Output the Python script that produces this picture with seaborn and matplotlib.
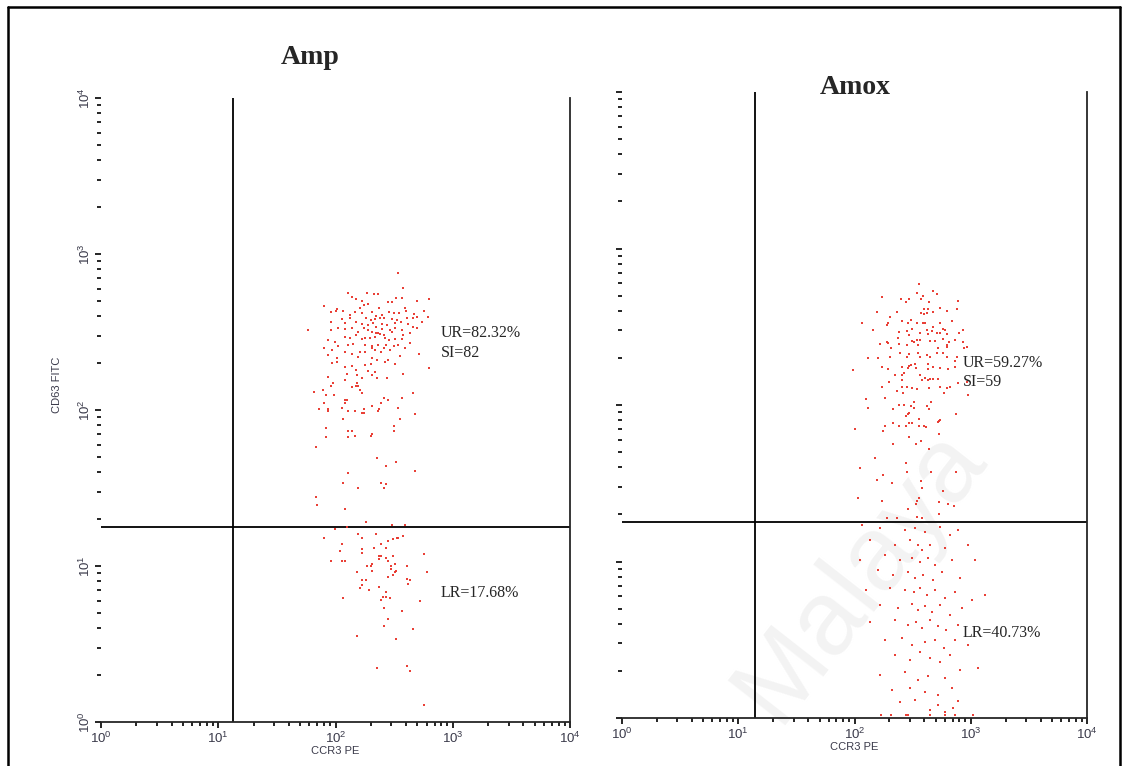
import numpy as np
import pandas as pd
import matplotlib
matplotlib.use("Agg")
import matplotlib.pyplot as plt
from matplotlib.ticker import LogLocator, LogFormatterMathtext, NullFormatter
from matplotlib.lines import Line2D
import seaborn as sns

# ---------------- data (log10 fluorescence intensity) ----------------
# Amp panel: upper gate (CD63 high)
amp_up_ccr3 = [2.535, 2.578, 2.109, 2.271, 2.328, 2.359, 2.138, 2.172, 2.518, 2.564, 2.797, 2.229, 2.697,
               1.905, 2.243, 2.280, 2.374, 2.444, 2.479, 2.592, 2.212, 1.962, 2.010, 2.067, 2.166, 2.223,
               2.314, 2.345, 2.399, 2.456, 2.498, 2.544, 2.598, 2.672, 2.757, 2.785, 2.002, 2.053, 2.124,
               2.124, 2.257, 2.303, 2.337, 2.379, 2.416, 2.479, 2.521, 2.612, 2.663, 2.697, 1.962, 2.081,
               2.175, 2.223, 2.280, 2.322, 2.393, 2.436, 2.507, 2.558, 2.621, 2.663, 2.734, 2.024, 2.081,
               2.138, 2.246, 2.274, 2.348, 2.393, 2.464, 2.507, 2.564, 2.695, 1.962, 1.769, 2.195, 2.308,
               2.345, 2.379, 2.416, 2.479, 2.578, 2.635, 2.172, 2.081, 2.124, 2.223, 2.251, 2.294, 2.337,
               2.365, 2.422, 2.456, 2.507, 2.564, 2.635, 1.996, 1.939, 2.024, 2.109, 2.152, 2.251, 2.308,
               2.365, 2.427, 2.496, 2.535, 1.905, 1.967, 2.081, 2.138, 2.209, 2.251, 2.308, 2.337, 2.388,
               2.416, 2.464, 2.592, 2.712, 1.939, 2.010, 2.195, 2.308, 2.351, 2.450, 2.422, 2.550, 1.973,
               2.010, 2.081, 2.138, 2.251, 2.303, 2.178, 2.280, 2.337, 2.314, 2.507, 2.797, 1.939, 1.982,
               2.095, 2.180, 2.223, 2.351, 2.436, 2.578, 2.081, 2.180,
               1.962, 2.138, 2.172, 2.195, 1.820, 1.891, 2.212, 1.919, 1.990, 2.229, 2.663, 2.081, 2.095,
               2.416, 2.444, 2.564, 1.905, 2.081, 2.388, 1.859, 1.933, 1.933, 2.053, 2.109, 2.166, 2.243,
               2.229, 2.246, 2.314, 2.371, 2.359, 2.535, 2.680, 2.067, 2.550, 1.919, 2.502, 2.109, 2.138,
               2.502, 1.919, 2.109, 2.166, 2.303, 2.314, 1.831, 2.357, 2.431, 2.518, 2.680, 2.109, 2.067,
               2.388, 2.431, 2.195, 2.416, 1.831, 1.845, 2.081, 2.257, 2.479, 2.592]
amp_up_cd63 = [2.876, 2.780, 2.750, 2.752, 2.741, 2.741, 2.722, 2.709, 2.720, 2.720, 2.709, 2.699, 2.699,
               2.669, 2.673, 2.677, 2.656, 2.694, 2.694, 2.656, 2.652, 2.626, 2.645, 2.637, 2.626, 2.620,
               2.630, 2.605, 2.609, 2.630, 2.620, 2.624, 2.635, 2.615, 2.637, 2.598, 2.635, 2.583, 2.609,
               2.588, 2.588, 2.577, 2.583, 2.588, 2.592, 2.583, 2.577, 2.588, 2.592, 2.598, 2.562, 2.556,
               2.566, 2.549, 2.545, 2.556, 2.549, 2.545, 2.556, 2.562, 2.549, 2.534, 2.562, 2.523, 2.517,
               2.528, 2.523, 2.513, 2.534, 2.517, 2.513, 2.523, 2.513, 2.528, 2.511, 2.511, 2.502, 2.502,
               2.491, 2.485, 2.481, 2.502, 2.481, 2.491, 2.481, 2.470, 2.459, 2.455, 2.464, 2.459, 2.470,
               2.491, 2.459, 2.449, 2.455, 2.455, 2.427, 2.438, 2.449, 2.412, 2.417, 2.421, 2.417, 2.408,
               2.417, 2.417, 2.412, 2.417, 2.395, 2.385, 2.370, 2.357, 2.374, 2.370, 2.395, 2.385, 2.370,
               2.400, 2.385, 2.395, 2.357, 2.353, 2.331, 2.342, 2.331, 2.320, 2.320, 2.310, 2.348, 2.299,
               2.305, 2.278, 2.284, 2.288, 2.293, 2.256, 2.250, 2.241, 2.224, 2.293, 2.271, 2.209, 2.171,
               2.229, 2.224, 2.203, 2.203, 2.207, 2.233, 2.192, 2.171,
               2.156, 2.150, 2.156, 2.156, 2.118, 2.128, 2.128, 2.096, 2.096, 2.107, 2.107, 2.064, 2.064,
               2.075, 2.064, 2.075, 2.043, 2.043, 2.043, 2.004, 2.004, 1.994, 2.011, 1.994, 1.994, 2.004,
               1.983, 1.983, 2.026, 2.004, 1.994, 2.011, 1.972, 1.940, 1.940, 1.887, 1.900, 1.868, 1.868,
               1.868, 1.825, 1.825, 1.835, 1.835, 1.846, 1.763, 1.690, 1.639, 1.669, 1.607, 1.596, 1.534,
               1.534, 1.523, 1.502, 1.502, 1.440, 1.389, 1.367, 1.284, 1.263, 1.263]
# Amp panel: lower gate (CD63 low)
amp_low_ccr3 = [2.095, 1.996, 1.905, 2.195, 2.229, 2.343, 2.490, 2.521, 2.535, 2.578, 2.444, 2.053, 2.039,
                2.223, 2.223, 2.331, 2.388, 2.431, 2.374, 2.388, 2.374, 2.431, 2.490, 2.444, 2.755, 1.962,
                2.053, 2.081, 2.271, 2.303, 2.314, 2.476, 2.505, 2.607, 2.184, 2.314, 2.476, 2.518, 2.505,
                2.490, 2.444, 2.783, 2.223, 2.257, 2.607, 2.635, 2.621, 2.223, 2.212, 2.286, 2.374, 2.431,
                2.402, 2.431, 2.462, 2.388, 2.067, 2.723, 2.416, 2.564, 2.444, 2.416, 2.663, 2.184, 2.518,
                2.357, 2.607, 2.635, 2.755]
amp_low_cd63 = [1.252, 1.235, 1.182, 1.203, 1.182, 1.203, 1.171, 1.182, 1.182, 1.192, 1.160, 1.139, 1.096,
                1.107, 1.086, 1.118, 1.139, 1.118, 1.064, 1.064, 1.043, 1.053, 1.064, 1.034, 1.075, 1.034,
                1.034, 1.034, 1.002, 1.002, 1.013, 1.002, 1.013, 1.002, 0.962, 0.970, 0.981, 0.970, 0.962,
                0.940, 0.929, 0.962, 0.908, 0.908, 0.919, 0.908, 0.887, 0.876, 0.857, 0.846, 0.868, 0.835,
                0.803, 0.803, 0.795, 0.782, 0.795, 0.774, 0.731, 0.714, 0.658, 0.615, 0.596, 0.553, 0.534,
                0.346, 0.357, 0.325, 0.107]

# Amox panel: upper gate
amox_up_ccr3 = [2.555, 2.540, 2.592, 2.672, 2.707, 2.234, 2.397, 2.469, 2.440, 2.572, 2.644, 2.893, 2.191,
                2.363, 2.601, 2.635, 2.678, 2.735, 2.793, 2.879, 2.569, 2.598, 2.621, 2.305, 2.406, 2.486,
                2.535, 2.586, 2.609, 2.735, 2.836, 2.062, 2.277, 2.291, 2.457, 2.678, 2.162, 2.386, 2.449,
                2.497, 2.563, 2.627, 2.664, 2.735, 2.764, 2.778, 2.930, 2.899, 2.377, 2.466, 2.635, 2.707,
                2.793, 2.535, 2.492, 2.515, 2.563, 2.649, 2.692, 2.764, 2.864, 2.936, 2.816, 2.277, 2.291,
                2.219, 2.386, 2.449, 2.543, 2.715, 2.793, 2.793, 2.965, 2.942, 2.311, 2.391, 2.472, 2.621,
                2.543, 2.707, 2.764, 2.119, 2.205, 2.305, 2.449, 2.563, 2.649, 2.793, 2.864, 2.879, 1.990,
                2.234, 2.291, 2.406, 2.469, 2.486, 2.520, 2.635, 2.678, 2.735, 2.801, 2.864, 2.635, 2.463,
                2.529, 2.348, 2.406, 2.426, 2.563, 2.606, 2.635, 2.581, 2.649, 2.721, 2.406, 2.300, 2.678,
                2.449, 2.411, 2.492, 2.540, 2.644, 2.735, 2.793, 2.234, 2.363, 2.414, 2.770, 2.099, 2.262,
                2.979, 2.893, 2.965, 2.821,
                2.512, 2.658, 2.119, 2.334, 2.380, 2.426, 2.483, 2.512, 2.627, 2.644, 2.472, 2.440, 2.457,
                2.555, 2.735, 2.727, 2.715, 2.873, 2.262, 2.334, 2.383, 2.440, 2.469, 2.497, 2.555, 2.598,
                2.615, 2.004, 2.248, 2.730, 2.469, 2.569, 2.334, 2.526, 2.644, 2.179, 2.440, 2.047, 2.454,
                2.658, 2.873, 2.248, 2.191, 2.323, 2.569, 2.583, 2.758, 2.033, 2.234, 2.555, 2.540, 2.730,
                2.801, 2.526, 2.859, 2.457, 2.730, 2.277, 2.368, 2.540, 2.583]
amox_up_cd63 = [2.771, 2.718, 2.699, 2.728, 2.709, 2.688, 2.677, 2.677, 2.656, 2.677, 2.656, 2.667, 2.596,
                2.596, 2.613, 2.611, 2.596, 2.618, 2.603, 2.613, 2.586, 2.579, 2.586, 2.564, 2.539, 2.543,
                2.526, 2.522, 2.522, 2.526, 2.539, 2.522, 2.511, 2.522, 2.522, 2.500, 2.479, 2.469, 2.475,
                2.486, 2.458, 2.479, 2.475, 2.462, 2.486, 2.479, 2.479, 2.458, 2.426, 2.447, 2.454, 2.458,
                2.451, 2.415, 2.407, 2.400, 2.415, 2.411, 2.411, 2.420, 2.415, 2.400, 2.400, 2.405, 2.394,
                2.390, 2.390, 2.383, 2.381, 2.362, 2.383, 2.373, 2.373, 2.362, 2.362, 2.334, 2.326, 2.319,
                2.334, 2.334, 2.334, 2.302, 2.302, 2.309, 2.309, 2.305, 2.309, 2.305, 2.283, 2.305, 2.224,
                2.241, 2.230, 2.241, 2.251, 2.256, 2.262, 2.228, 2.241, 2.239, 2.230, 2.241, 2.262, 2.234,
                2.234, 2.192, 2.192, 2.202, 2.192, 2.170, 2.160, 2.160, 2.166, 2.166, 2.160, 2.149, 2.164,
                2.117, 2.117, 2.106, 2.102, 2.106, 2.117, 2.106, 2.117, 2.089, 2.075, 2.075, 2.040, 2.047,
                2.064, 2.138, 2.149, 2.117,
                2.021, 2.021, 1.983, 1.972, 2.002, 2.002, 1.991, 1.983, 1.991, 1.972, 1.951, 1.930, 1.942,
                1.908, 1.904, 1.896, 1.889, 1.940, 1.866, 1.887, 1.866, 1.868, 1.887, 1.887, 1.868, 1.868,
                1.857, 1.847, 1.836, 1.815, 1.793, 1.772, 1.753, 1.753, 1.721, 1.659, 1.627, 1.595, 1.574,
                1.574, 1.574, 1.555, 1.523, 1.504, 1.512, 1.472, 1.450, 1.408, 1.389, 1.408, 1.389, 1.378,
                1.367, 1.367, 1.357, 1.335, 1.306, 1.276, 1.276, 1.284, 1.276]
# Amox panel: lower gate
amox_low_ccr3 = [2.065, 2.219, 2.434, 2.520, 2.606, 2.735, 2.821, 2.890, 2.133, 2.348, 2.477, 2.546, 2.581,
                 2.649, 2.778, 2.976, 2.047, 2.262, 2.391, 2.495, 2.563, 2.632, 2.692, 2.839, 3.037, 2.202,
                 2.331, 2.460, 2.520, 2.589, 2.675, 2.753, 2.908, 2.099, 2.305, 2.434, 2.512, 2.563, 2.624,
                 2.692, 2.778, 2.865, 3.011, 3.123, 2.219, 2.374, 2.495, 2.546, 2.606, 2.667, 2.735, 2.821,
                 2.925, 2.133, 2.348, 2.460, 2.529, 2.581, 2.649, 2.718, 2.787, 2.890, 2.262, 2.409, 2.495,
                 2.606, 2.692, 2.770, 2.865, 2.976, 2.348, 2.477, 2.563, 2.649, 2.735, 2.821, 3.062, 2.219,
                 2.434, 2.546, 2.632, 2.778, 2.908, 2.323, 2.477, 2.606, 2.718, 2.839, 2.391, 2.520, 2.718,
                 2.847, 2.890, 2.649, 2.778, 2.228, 2.314, 2.443, 2.460, 2.649, 2.778, 2.865, 3.019]
amox_low_cd63 = [1.233, 1.214, 1.201, 1.214, 1.189, 1.220, 1.169, 1.201, 1.137, 1.105, 1.137, 1.105, 1.074,
                 1.105, 1.086, 1.105, 1.010, 1.042, 1.010, 1.022, 0.997, 1.022, 0.978, 1.010, 1.010, 0.946,
                 0.914, 0.933, 0.895, 0.914, 0.882, 0.933, 0.895, 0.818, 0.831, 0.818, 0.805, 0.831, 0.786,
                 0.818, 0.767, 0.805, 0.754, 0.786, 0.722, 0.703, 0.728, 0.690, 0.716, 0.677, 0.722, 0.658,
                 0.703, 0.613, 0.626, 0.594, 0.613, 0.575, 0.626, 0.588, 0.562, 0.594, 0.498, 0.511, 0.466,
                 0.486, 0.498, 0.447, 0.498, 0.466, 0.403, 0.371, 0.422, 0.383, 0.358, 0.403, 0.320, 0.275,
                 0.294, 0.243, 0.268, 0.256, 0.307, 0.179, 0.192, 0.166, 0.147, 0.192, 0.102, 0.115, 0.083,
                 0.064, 0.109, 0.051, 0.038, 0.020, 0.020, 0.020, 0.020, 0.020, 0.020, 0.020, 0.020]

# quadrant gates (fluorescence units)
amp_gate_x, amp_gate_y = 13.4, 17.8
amox_gate_x, amox_gate_y = 13.9, 17.9

panel_titles = ["Amp", "Amox"]
amp_labels = ["UR=82.32%", "SI=82", "LR=17.68%"]
amox_labels = ["UR=59.27%", "SI=59", "LR=40.73%"]
x_label = "CCR3 PE"
y_label = "CD63 FITC"
watermark = "Malaya"

# ---------------- figure ----------------
sns.set_style("ticks")
plt.rcParams["font.family"] = ["Liberation Sans", "DejaVu Sans"]
plt.rcParams["mathtext.fontset"] = "custom"
plt.rcParams["mathtext.rm"] = "Liberation Sans"
plt.rcParams["mathtext.it"] = "Liberation Sans"

W, H = 1127, 766
fig = plt.figure(figsize=(W / 100, H / 100), dpi=100)
fig.patch.set_facecolor("white")


def fx(px):
    return px / W


def fy(py):
    return 1 - py / H


ax1 = fig.add_axes([fx(101), fy(722), (570 - 101) / W, (722 - 98) / H])
ax2 = fig.add_axes([fx(622), fy(718), (1087 - 622) / W, (718 - 92) / H])

point_color = "#e8362c"


def make_df(xs, ys):
    return pd.DataFrame({"CCR3": 10 ** np.array(xs), "CD63": 10 ** np.array(ys)})


amp_df = pd.concat([make_df(amp_up_ccr3, amp_up_cd63), make_df(amp_low_ccr3, amp_low_cd63)])
amox_df = pd.concat([make_df(amox_up_ccr3, amox_up_cd63), make_df(amox_low_ccr3, amox_low_cd63)])

label_color = "#3a3a4a"
for ax, df, gx, gy in [(ax1, amp_df, amp_gate_x, amp_gate_y), (ax2, amox_df, amox_gate_x, amox_gate_y)]:
    ax.set_facecolor("none")
    sns.scatterplot(data=df, x="CCR3", y="CD63", ax=ax, marker="s", s=3, color=point_color,
                    linewidth=0, alpha=0.95, clip_on=False, zorder=3)
    ax.set_xscale("log")
    ax.set_yscale("log")
    ax.set_xlim(1, 1e4)
    ax.set_ylim(1, 1e4)
    ax.axvline(gx, color="black", lw=1.3, zorder=2)
    ax.axhline(gy, color="black", lw=1.3, zorder=2)
    for a in (ax.xaxis, ax.yaxis):
        a.set_major_locator(LogLocator(base=10, numticks=10))
        a.set_minor_locator(LogLocator(base=10, subs=np.arange(2, 10), numticks=10))
        a.set_major_formatter(LogFormatterMathtext())
        a.set_minor_formatter(NullFormatter())
    ax.spines["top"].set_visible(False)
    ax.spines["left"].set_visible(False)
    ax.spines["right"].set_linewidth(1.3)
    ax.spines["bottom"].set_linewidth(1.3)
    ax.tick_params(axis="both", which="major", direction="out", length=4, width=1.2,
                   color="black", labelsize=9.5, labelcolor=label_color, pad=2)
    ax.tick_params(axis="both", which="minor", direction="out", length=3, width=1.2, color="black")
    ax.tick_params(axis="y", labelrotation=90)
    ax.set_xlabel(x_label, fontsize=8, color=label_color, labelpad=0)
    ax.set_ylabel("")

for lbl in ax1.get_yticklabels():
    lbl.set_va("center")
ax1.set_ylabel(y_label, fontsize=8, color=label_color)
ax1.yaxis.set_label_coords(-0.083, 0.54)
ax2.tick_params(axis="y", labelleft=False)

# titles and quadrant statistics
serif = ["Liberation Serif", "DejaVu Serif"]
fig.text(fx(310), fy(58), panel_titles[0], fontsize=20, fontweight="bold", family=serif,
         ha="center", va="center")
fig.text(fx(855), fy(88), panel_titles[1], fontsize=20, fontweight="bold", family=serif,
         ha="center", va="center")
for txt, py in zip(amp_labels, [333, 353, 593]):
    fig.text(fx(441), fy(py), txt, fontsize=11.5, family=serif, ha="left", va="center")
for txt, py in zip(amox_labels, [363, 382, 633]):
    fig.text(fx(963), fy(py), txt, fontsize=11.5, family=serif, ha="left", va="center")

# faint watermark
fig.text(fx(860), fy(575), watermark, fontsize=76, color="#f3f3f3", rotation=52,
         ha="center", va="center", zorder=-1, family=["Liberation Sans", "DejaVu Sans"])

# outer frame
frame_kw = dict(color="black", lw=1.8, transform=fig.transFigure)
fig.add_artist(Line2D([fx(8), fx(8)], [0, fy(7)], **frame_kw))
fig.add_artist(Line2D([fx(8), fx(1120)], [fy(7), fy(7)], **frame_kw))
fig.add_artist(Line2D([fx(1120), fx(1120)], [0, fy(7)], **frame_kw))

fig.savefig("out.png", dpi=100)
